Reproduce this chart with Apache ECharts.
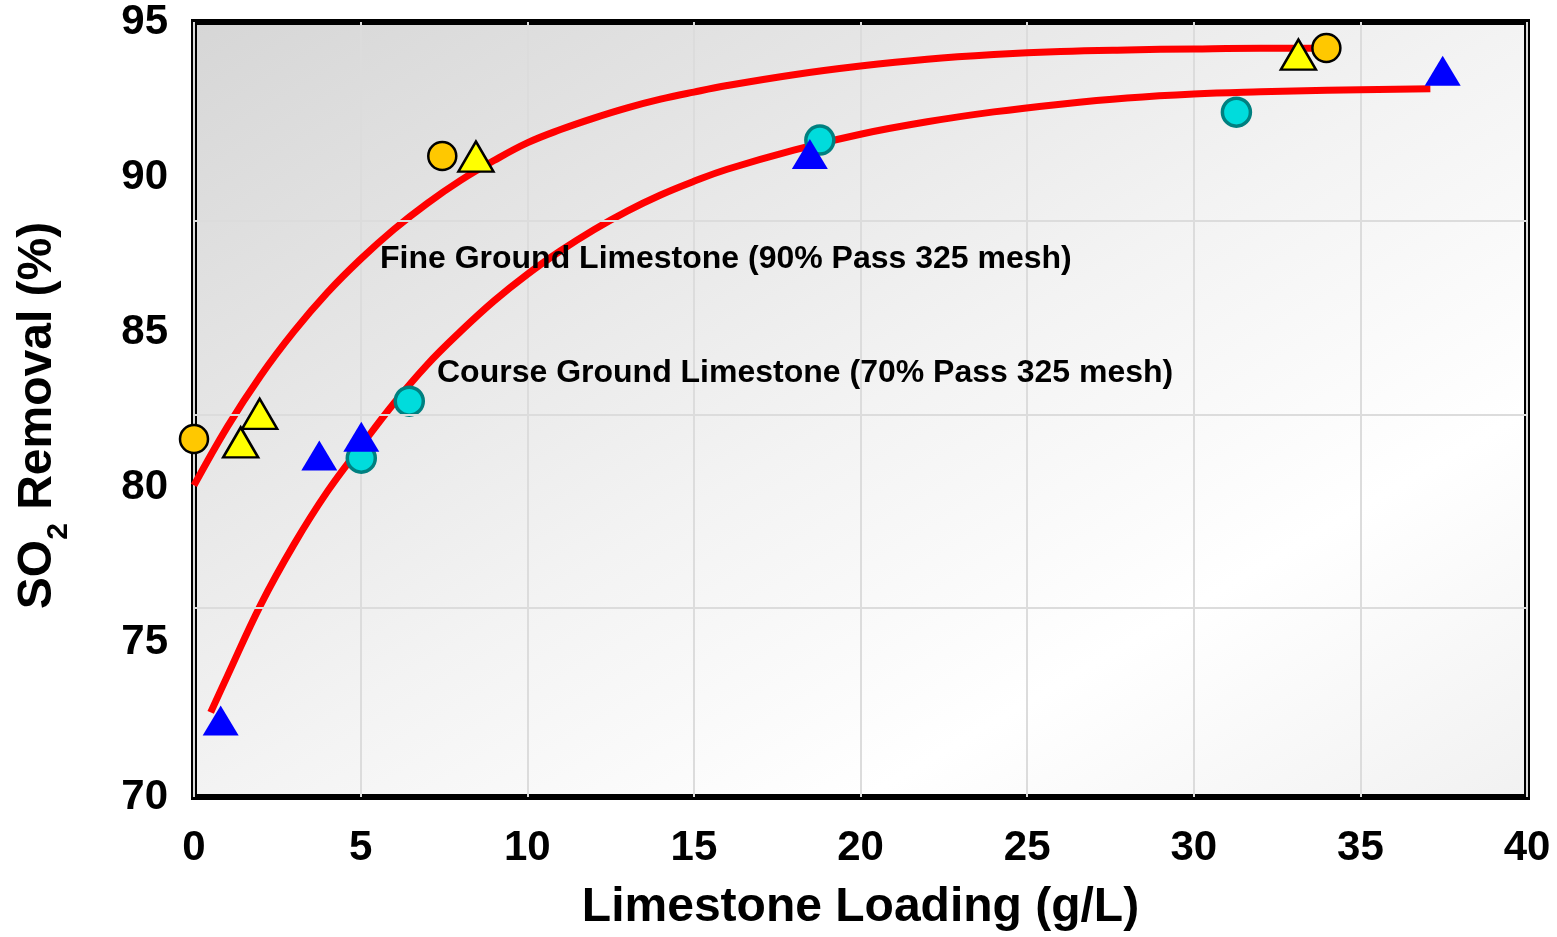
<!DOCTYPE html>
<html>
<head>
<meta charset="utf-8">
<script src="https://cdn.jsdelivr.net/npm/echarts@6/dist/echarts.min.js"></script>
<style>
html,body{margin:0;padding:0;background:#fff;}
#chart{width:1557px;height:937px;}
</style>
</head>
<body>
<div id="chart"></div>
<script>
// ---- data ----
const xTicks = [0, 5, 10, 15, 20, 25, 30, 35, 40];
const yTicks = [70, 75, 80, 85, 90, 95];
const fineCircles = [[0, 81.55], [7.45, 90.68], [33.98, 94.16]];
const fineTriangles = [[1.4, 81.44], [1.97, 82.36], [8.46, 90.66], [33.14, 93.95]];
const coarseCircles = [[5.02, 80.93], [6.46, 82.77], [18.78, 91.19], [31.28, 92.09]];
const coarseTriangles = [[0.8, 72.47], [3.76, 81.02], [5.02, 81.62], [18.48, 90.74], [37.47, 93.43]];
const fineCurve = [[0, 80.05], [1, 81.94], [2, 83.59], [3, 85.02], [4, 86.27], [5, 87.35],
  [6, 88.31], [7, 89.15], [8, 89.89], [9, 90.53], [10, 91.1], [11, 91.53], [12, 91.9], [13, 92.23],
  [14, 92.51], [15, 92.74], [16, 92.95], [18, 93.3], [20, 93.58], [22, 93.8], [24, 93.95],
  [26, 94.05], [28, 94.1], [30, 94.13], [32, 94.15], [33.6, 94.15]];
const coarseCurve = [[0.5, 72.73], [1, 73.9], [2, 76.2], [3, 78.15], [4, 79.85], [5, 81.3], [6, 82.7],
  [7, 83.95], [8, 85.02], [9, 86.0], [10, 86.86], [11, 87.62], [12, 88.3], [13, 88.9], [14, 89.42],
  [15, 89.86], [16, 90.25], [18, 90.87], [20, 91.38], [22, 91.78], [24, 92.1], [26, 92.35],
  [28, 92.55], [30, 92.68], [32, 92.75], [34, 92.8], [37.1, 92.85]];
const hGridLevels = [88.58, 82.32, 76.11];
const fineLabel = 'Fine Ground Limestone (90% Pass 325 mesh)';
const coarseLabel = 'Course Ground Limestone (70% Pass 325 mesh)';
const xTitle = 'Limestone Loading (g/L)';

// ---- chart ----
const FONT = '"Liberation Sans", Arial, sans-serif';
const chart = echarts.init(document.getElementById('chart'), null, {renderer: 'canvas'});
const option = {
  animation: false,
  backgroundColor: '#ffffff',
  grid: {
    left: 194, right: 30, top: 22, bottom: 137,
    show: true,
    borderColor: '#000000',
    borderWidth: 6,
    backgroundColor: new echarts.graphic.LinearGradient(0, 0, 0.508, 1.492, [
      {offset: 0, color: '#d6d6d6'},
      {offset: 0.5, color: '#f3f3f3'},
      {offset: 0.75, color: '#ffffff'},
      {offset: 1, color: '#f1f1f1'}
    ])
  },
  xAxis: {
    type: 'value',
    min: xTicks[0], max: xTicks[xTicks.length - 1], interval: 5,
    axisLine: {show: false},
    axisTick: {show: false},
    splitLine: {show: true, lineStyle: {color: '#dcdcdc', width: 2}},
    axisLabel: {
      margin: 30, color: '#000', fontWeight: 'bold', fontSize: 42, fontFamily: FONT,
      formatter: v => xTicks.includes(v) ? String(v) : ''
    },
    name: xTitle,
    nameLocation: 'middle',
    nameGap: 87,
    nameTextStyle: {color: '#000', fontWeight: 'bold', fontSize: 48, fontFamily: FONT}
  },
  yAxis: {
    type: 'value',
    min: yTicks[0], max: yTicks[yTicks.length - 1], interval: 5,
    axisLine: {show: false},
    axisTick: {show: false},
    splitLine: {show: false},
    axisLabel: {
      margin: 26, color: '#000', fontWeight: 'bold', fontSize: 42, fontFamily: FONT,
      formatter: v => yTicks.includes(v) ? String(v) : ''
    },
    name: '{a|SO}{s|2}{a| Removal (%)}',
    nameLocation: 'middle',
    nameGap: 132,
    nameTextStyle: {
      color: '#000',
      padding: [0, 12, 0, 0],
      rich: {
        a: {fontWeight: 'bold', fontSize: 48, fontFamily: FONT, color: '#000'},
        s: {fontWeight: 'bold', fontSize: 30, fontFamily: FONT, color: '#000', verticalAlign: 'bottom', padding: [0, 0, -12, 0]}
      }
    }
  },
  series: [
    {
      type: 'line', data: [], silent: true, z: 0,
      markLine: {
        silent: true, symbol: ['none', 'none'], label: {show: false},
        lineStyle: {color: '#dcdcdc', width: 2, type: 'solid'},
        data: hGridLevels.map(v => ({yAxis: v}))
      }
    },
    {
      type: 'line', data: fineCurve, smooth: 0.4, showSymbol: false, silent: true, z: 2,
      lineStyle: {color: '#ff0000', width: 7}
    },
    {
      type: 'line', data: coarseCurve, smooth: 0.4, showSymbol: false, silent: true, z: 2,
      lineStyle: {color: '#ff0000', width: 7}
    },
    {
      type: 'scatter', data: coarseCircles, symbol: 'circle', symbolSize: 28, z: 3,
      itemStyle: {color: '#00dcdc', borderColor: '#008080', borderWidth: 3.5, opacity: 1}
    },
    {
      type: 'scatter', data: coarseTriangles, symbol: 'triangle', symbolSize: [36, 30], z: 4,
      itemStyle: {color: '#0000ff', opacity: 1}
    },
    {
      type: 'scatter', data: fineCircles, symbol: 'circle', symbolSize: 28, z: 4,
      itemStyle: {color: '#ffc800', borderColor: '#000000', borderWidth: 2.5, opacity: 1}
    },
    {
      type: 'scatter', data: fineTriangles, symbol: 'triangle', symbolSize: [35, 30], z: 5,
      itemStyle: {color: '#ffff00', borderColor: '#000000', borderWidth: 2.5, opacity: 1}
    }
  ],
  graphic: [
    {
      type: 'text', left: 380, top: 243, z: 10, silent: true,
      style: {text: fineLabel, font: 'bold 32px ' + FONT, fill: '#000'}
    },
    {
      type: 'text', left: 437, top: 357, z: 10, silent: true,
      style: {text: coarseLabel, font: 'bold 32px ' + FONT, fill: '#000'}
    }
  ]
};
chart.setOption(option);
</script>
</body>
</html>
